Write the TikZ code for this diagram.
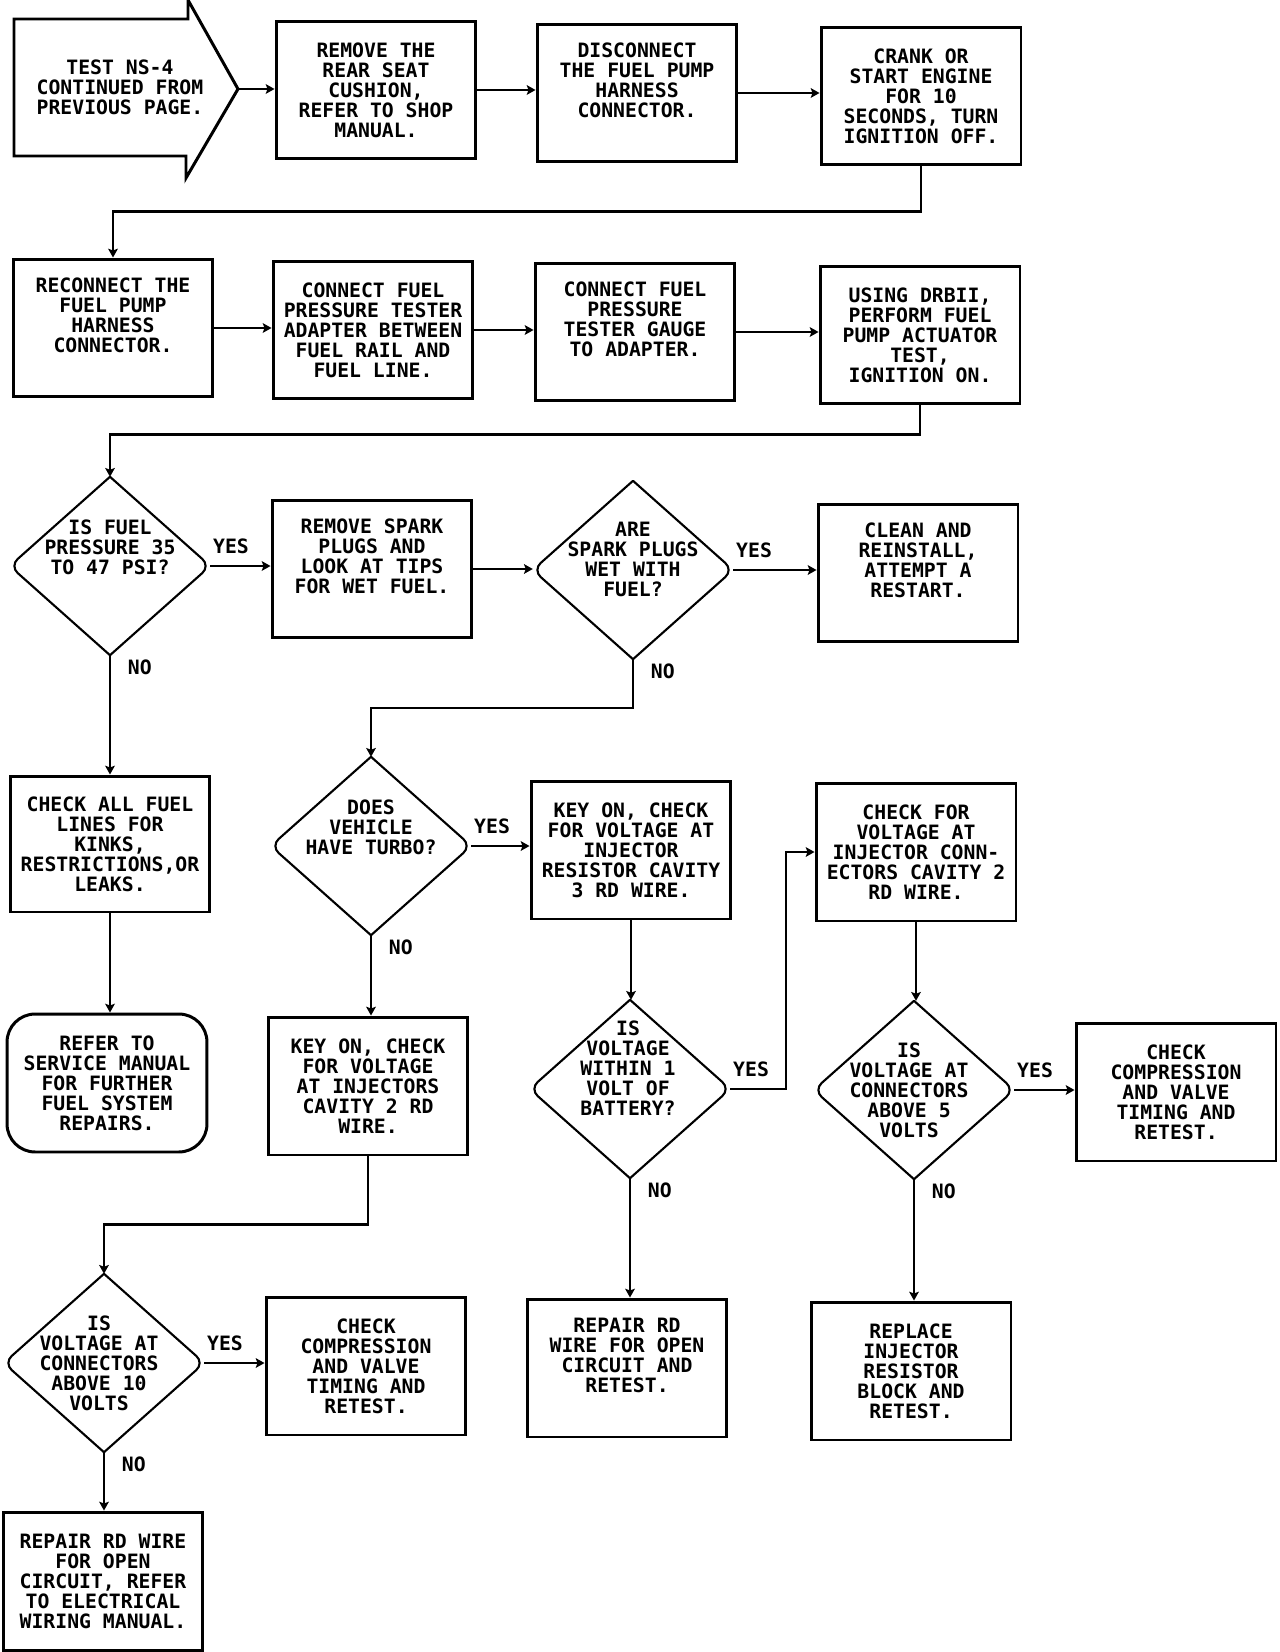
\documentclass[tikz,border=0pt]{standalone}
\usepackage{fontspec}
\setmonofont{DejaVu Sans Mono}
\usetikzlibrary{arrows.meta, positioning, shapes.geometric}
\tikzset{
  every picture/.style={font=\ttfamily\bfseries\fontsize{11.25}{11.4}\selectfont, line width=1.4pt},
  box/.style={draw, line width=1.7pt, align=center, inner sep=0pt, minimum width=4cm, minimum height=2.76cm},
  roundbox/.style={box, rounded corners=16pt},
  plain/.style={align=center, inner sep=0pt},
  decision/.style={diamond, draw=none, inner sep=0pt, minimum width=3.96cm, minimum height=3.52cm},
  arrow/.style={-{Stealth[length=5pt, width=5.5pt, inset=1pt]}, line width=1.4pt},
  yeslabel/.style={anchor=south west, inner sep=0pt, xshift=1pt, yshift=6pt},
  nolabel/.style={anchor=north west, inner sep=0pt, xshift=9.5pt, yshift=-2pt},
}
\begin{document}
\begin{tikzpicture}[x=0.02cm, y=-0.02cm]
  \useasboundingbox (0,0) rectangle (1280,1652);
  % entry arrow
  \coordinate (starttip) at (238,89);
  \draw[line width=1.7pt] (14,19) -- (188,19) -- (188,0) -- (starttip) -- (186,178) -- (186,156) -- (14,156) -- cycle;
  \node[plain] (starttext) at (120,87) {TEST NS-4\\CONTINUED FROM\\PREVIOUS PAGE.};
  % first row
  \node[box] (removeseat) at (376,90) {REMOVE THE\\REAR SEAT\\CUSHION,\\REFER TO SHOP\\MANUAL.};
  \node[box] (disconnect) at (637,93) {DISCONNECT\\THE FUEL PUMP\\HARNESS\\CONNECTOR.\\ \strut};
  \node[box] (crank) at (921,96) {CRANK OR\\START ENGINE\\FOR 10\\SECONDS, TURN\\IGNITION OFF.};
  % second row
  \node[box] (reconnect) at (113,328) {RECONNECT THE\\FUEL PUMP\\HARNESS\\CONNECTOR.\\ \strut};
  \node[box] (adapter) at (373,330) {CONNECT FUEL\\PRESSURE TESTER\\ADAPTER BETWEEN\\FUEL RAIL AND\\FUEL LINE.};
  \node[box] (gauge) at (635,332) {CONNECT FUEL\\PRESSURE\\TESTER GAUGE\\TO ADAPTER.\\ \strut};
  \node[box] (drb) at (920,335) {USING DRBII,\\PERFORM FUEL\\PUMP ACTUATOR\\TEST,\\IGNITION ON.};
  % third row
  \node[decision] (isfuel) at (110,566) {};
  \node[plain] (isfueltext) at (110,547) {IS FUEL\\PRESSURE 35\\TO 47 PSI?};
  \node[box] (spark) at (372,569) {REMOVE SPARK\\PLUGS AND\\LOOK AT TIPS\\FOR WET FUEL.\\ \strut};
  \node[decision] (arewet) at (633,570) {};
  \node[plain] (arewettext) at (633,559) {ARE\\SPARK PLUGS\\WET WITH\\FUEL?};
  \node[box] (clean) at (918,573) {CLEAN AND\\REINSTALL,\\ATTEMPT A\\RESTART.\\ \strut};
  % fourth row
  \node[box, minimum height=2.72cm] (checklines) at (110,844) {CHECK ALL FUEL\\LINES FOR\\KINKS,\\RESTRICTIONS,OR\\LEAKS.};
  \node[decision] (turbo) at (371,846) {};
  \node[plain] (turbotext) at (371,827) {DOES\\VEHICLE\\HAVE TURBO?};
  \node[box] (cavity3) at (631,850) {KEY ON, CHECK\\FOR VOLTAGE AT\\INJECTOR\\RESISTOR CAVITY\\3 RD WIRE.};
  \node[box] (connector) at (916,852) {CHECK FOR\\VOLTAGE AT\\INJECTOR CONN-\\ECTORS CAVITY 2\\RD WIRE.};
  % fifth row
  \node[roundbox] (service) at (107,1083) {REFER TO\\SERVICE MANUAL\\FOR FURTHER\\FUEL SYSTEM\\REPAIRS.};
  \node[box] (cavity2) at (368,1086) {KEY ON, CHECK\\FOR VOLTAGE\\AT INJECTORS\\CAVITY 2 RD\\WIRE.};
  \node[decision] (within) at (630,1089) {};
  \node[plain] (withintext) at (628,1068) {IS\\VOLTAGE\\WITHIN 1\\VOLT OF\\BATTERY?};
  \node[decision] (abovefive) at (914,1090) {};
  \node[plain] (abovefivetext) at (909,1090) {IS\\VOLTAGE AT\\CONNECTORS\\ABOVE 5\\VOLTS};
  \node[box] (compright) at (1176,1092) {CHECK\\COMPRESSION\\AND VALVE\\TIMING AND\\RETEST.};
  % sixth row
  \node[decision] (aboveten) at (104,1363) {};
  \node[plain] (abovetentext) at (99,1363) {IS\\VOLTAGE AT\\CONNECTORS\\ABOVE 10\\VOLTS};
  \node[box] (compleft) at (366,1366) {CHECK\\COMPRESSION\\AND VALVE\\TIMING AND\\RETEST.};
  \node[box] (repairrd) at (627,1368) {REPAIR RD\\WIRE FOR OPEN\\CIRCUIT AND\\RETEST.\\ \strut};
  \node[box] (replace) at (911,1371) {REPLACE\\INJECTOR\\RESISTOR\\BLOCK AND\\RETEST.};
  \node[box] (repaircircuit) at (103,1581) {REPAIR RD WIRE\\FOR OPEN\\CIRCUIT, REFER\\TO ELECTRICAL\\WIRING MANUAL.};
  % diamond outlines, rounded at the sides only
  \foreach \d in {isfuel, arewet, turbo, within, abovefive, aboveten} {
    \draw[line width=1.2pt, line cap=round, rounded corners=6pt] (\d.north) -- (\d.east) -- (\d.south);
    \draw[line width=1.2pt, line cap=round, rounded corners=6pt] (\d.north) -- (\d.west) -- (\d.south);
  }
  % connectors
  \draw[arrow] (starttip) -- (starttip -| removeseat.west);
  \draw[arrow] (removeseat.east) -- (removeseat.east -| disconnect.west);
  \draw[arrow] (disconnect.east) -- (disconnect.east -| crank.west);
  \draw[arrow] (crank.south) -- ++(0,45) -| (reconnect.north);
  \draw[arrow] (reconnect.east) -- (reconnect.east -| adapter.west);
  \draw[arrow] (adapter.east) -- (adapter.east -| gauge.west);
  \draw[arrow] (gauge.east) -- (gauge.east -| drb.west);
  \draw[arrow] (drb.south) -- ++(0,29) -| (isfuel.north);
  \draw[arrow] (isfuel.east) -- (isfuel.east -| spark.west);
  \draw[arrow] (isfuel.south) -- (isfuel.south |- checklines.north);
  \draw[arrow] (spark.east) -- (spark.east -| arewet.west);
  \draw[arrow] (arewet.east) -- (arewet.east -| clean.west);
  \draw[arrow] (arewet.south) -- ++(0,49) -| (turbo.north);
  \draw[arrow] (turbo.east) -- (turbo.east -| cavity3.west);
  \draw[arrow] (turbo.south) -- (turbo.south |- cavity2.north);
  \draw[arrow] (checklines.south) -- (checklines.south |- service.north);
  \draw[arrow] (cavity3.south) -- (cavity3.south |- within.north);
  \draw[arrow] (within.east) -- ++(56,0) |- (connector.west);
  \draw[arrow] (connector.south) -- (connector.south |- abovefive.north);
  \draw[arrow] (abovefive.east) -- (abovefive.east -| compright.west);
  \draw[arrow] (within.south) -- (within.south |- repairrd.north);
  \draw[arrow] (abovefive.south) -- (abovefive.south |- replace.north);
  \draw[arrow] (cavity2.south) -- ++(0,68) -| (aboveten.north);
  \draw[arrow] (aboveten.east) -- (aboveten.east -| compleft.west);
  \draw[arrow] (aboveten.south) -- (aboveten.south |- repaircircuit.north);
  % branch labels
  \node[yeslabel] (isfuelyes) at (isfuel.east) {YES};
  \node[nolabel] (isfuelno) at (isfuel.south) {NO};
  \node[yeslabel] (arewetyes) at (arewet.east) {YES};
  \node[nolabel] (arewetno) at (arewet.south) {NO};
  \node[yeslabel] (turboyes) at (turbo.east) {YES};
  \node[nolabel] (turbono) at (turbo.south) {NO};
  \node[yeslabel] (withinyes) at (within.east) {YES};
  \node[nolabel] (withinno) at (within.south) {NO};
  \node[yeslabel] (abovefiveyes) at (abovefive.east) {YES};
  \node[nolabel] (abovefiveno) at (abovefive.south) {NO};
  \node[yeslabel] (abovetenyes) at (aboveten.east) {YES};
  \node[nolabel] (abovetenno) at (aboveten.south) {NO};
\end{tikzpicture}
\end{document}
